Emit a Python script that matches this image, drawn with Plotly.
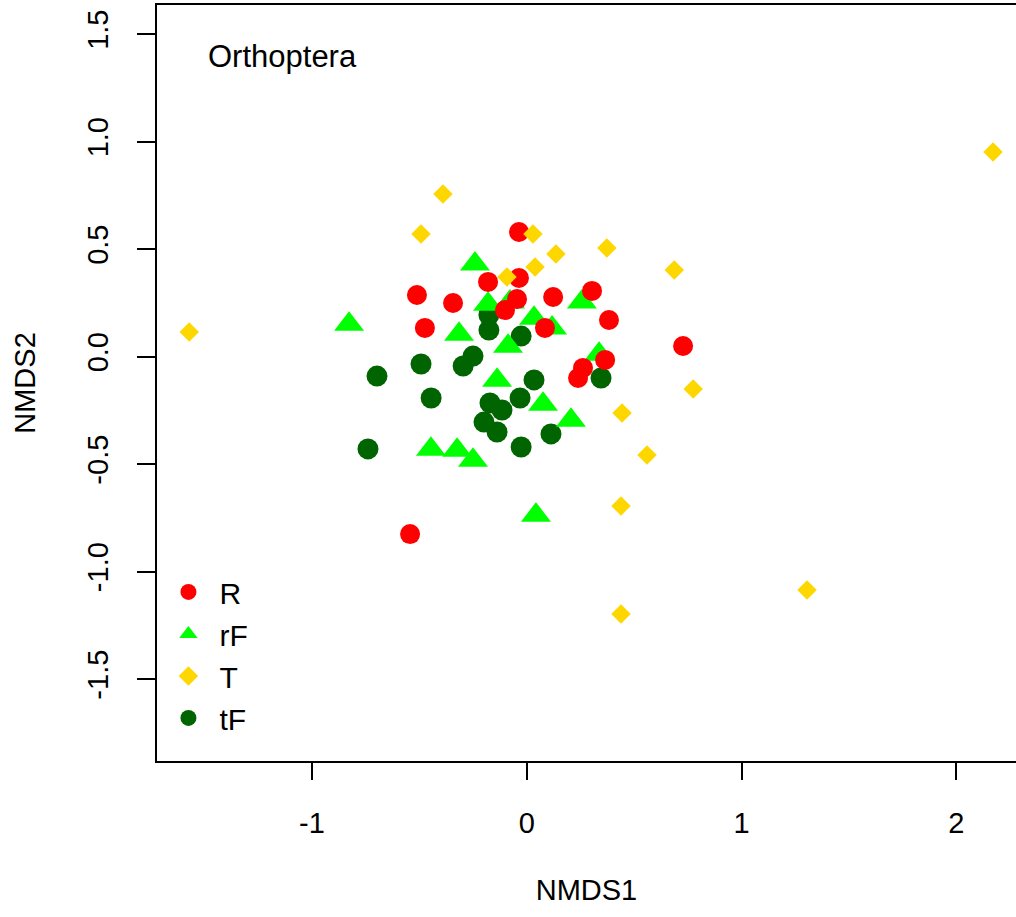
import plotly.graph_objects as go

# ---- data (NMDS scores) ----
R_x = [-0.036, -0.180, -0.036, -0.511, -0.343, 0.123, 0.304, -0.045, -0.101, 0.383,
       0.085, -0.474, 0.365, 0.262, 0.239, 0.728, -0.543]
R_y = [0.579, 0.347, 0.365, 0.286, 0.249, 0.277, 0.305, 0.267, 0.216, 0.170,
       0.133, 0.133, -0.016, -0.053, -0.100, 0.049, -0.826]

rF_x = [-0.241, -0.180, -0.078, 0.034, 0.118, 0.257, -0.827, -0.315, -0.087, 0.337,
        -0.138, 0.076, 0.206, -0.446, -0.324, -0.250, 0.043]
rF_y = [0.430, 0.243, 0.253, 0.178, 0.132, 0.253, 0.150, 0.104, 0.048, 0.011,
        -0.110, -0.222, -0.296, -0.431, -0.436, -0.482, -0.738]

T_x = [-1.571, -0.390, -0.492, 0.029, 0.136, 0.039, -0.092, 0.373, 0.687, 0.775,
       0.444, 0.560, 0.439, 0.439, 1.305, 2.171]
T_y = [0.114, 0.756, 0.570, 0.570, 0.477, 0.416, 0.370, 0.505, 0.402, -0.151,
       -0.263, -0.458, -0.695, -1.198, -1.086, 0.951]

tF_x = [-0.697, -0.492, -0.445, -0.296, -0.250, -0.176, -0.176, -0.026, 0.034, -0.031,
        -0.171, -0.115, -0.199, -0.138, -0.026, 0.113, 0.346, -0.739]
tF_y = [-0.091, -0.035, -0.193, -0.044, 0.002, 0.123, 0.193, 0.095, -0.109, -0.193,
        -0.216, -0.249, -0.305, -0.351, -0.421, -0.360, -0.100, -0.430]

x_ticks = [-1, 0, 1, 2]
x_ticktext = ["-1", "0", "1", "2"]
y_ticks = [-1.5, -1.0, -0.5, 0.0, 0.5, 1.0, 1.5]
y_ticktext = ["-1.5", "-1.0", "-0.5", "0.0", "0.5", "1.0", "1.5"]

FONT = "Liberation Sans, Arial, Helvetica, sans-serif"

fig = go.Figure()
fig.add_trace(go.Scatter(x=tF_x, y=tF_y, mode="markers", name="tF", legendrank=4,
                         marker=dict(symbol="circle", size=21, color="#006400",
                                     line=dict(width=0))))
fig.add_trace(go.Scatter(x=rF_x, y=rF_y, mode="markers", name="rF", legendrank=2,
                         marker=dict(symbol="triangle-up", size=26, color="#00FF00",
                                     line=dict(width=0))))
fig.add_trace(go.Scatter(x=R_x, y=R_y, mode="markers", name="R", legendrank=1,
                         marker=dict(symbol="circle", size=20, color="#FF0000",
                                     line=dict(width=0))))
fig.add_trace(go.Scatter(x=T_x, y=T_y, mode="markers", name="T", legendrank=3,
                         marker=dict(symbol="diamond", size=15, color="#FFD700",
                                     line=dict(width=0))))

fig.update_layout(
    width=1016, height=917,
    margin=dict(l=157, r=0, t=5, b=156),
    paper_bgcolor="white", plot_bgcolor="white",
    font=dict(family=FONT, size=29, color="black"),
    showlegend=True,
    legend=dict(x=0.0005, y=0.258, xanchor="left", yanchor="top",
                bgcolor="rgba(0,0,0,0)", font=dict(size=30), itemwidth=52,
                tracegroupgap=0),
    xaxis=dict(range=[-1.7212, 2.2779], tickvals=x_ticks, ticktext=x_ticktext,
               showgrid=False, zeroline=False, showline=True, linecolor="black",
               linewidth=2, mirror=True, ticks="outside", ticklen=17, tickwidth=1.5,
               tickcolor="black", ticklabelstandoff=18,
               title=dict(text="NMDS1", standoff=42, font=dict(size=29))),
    yaxis=dict(range=[-1.8814, 1.6349], tickvals=y_ticks, ticktext=y_ticktext,
               showgrid=False, zeroline=False, showline=True, linecolor="black",
               linewidth=2, mirror=False, ticks="outside", ticklen=18, tickwidth=1.5,
               tickcolor="black", tickangle=-90, ticklabelstandoff=17,
               title=dict(text="NMDS2", standoff=38, font=dict(size=29))),
    annotations=[dict(text="Orthoptera", x=0.057, y=0.9325, xref="paper", yref="paper",
                      xanchor="left", yanchor="middle", showarrow=False,
                      font=dict(size=31))],
)

fig.write_html("out.html")
